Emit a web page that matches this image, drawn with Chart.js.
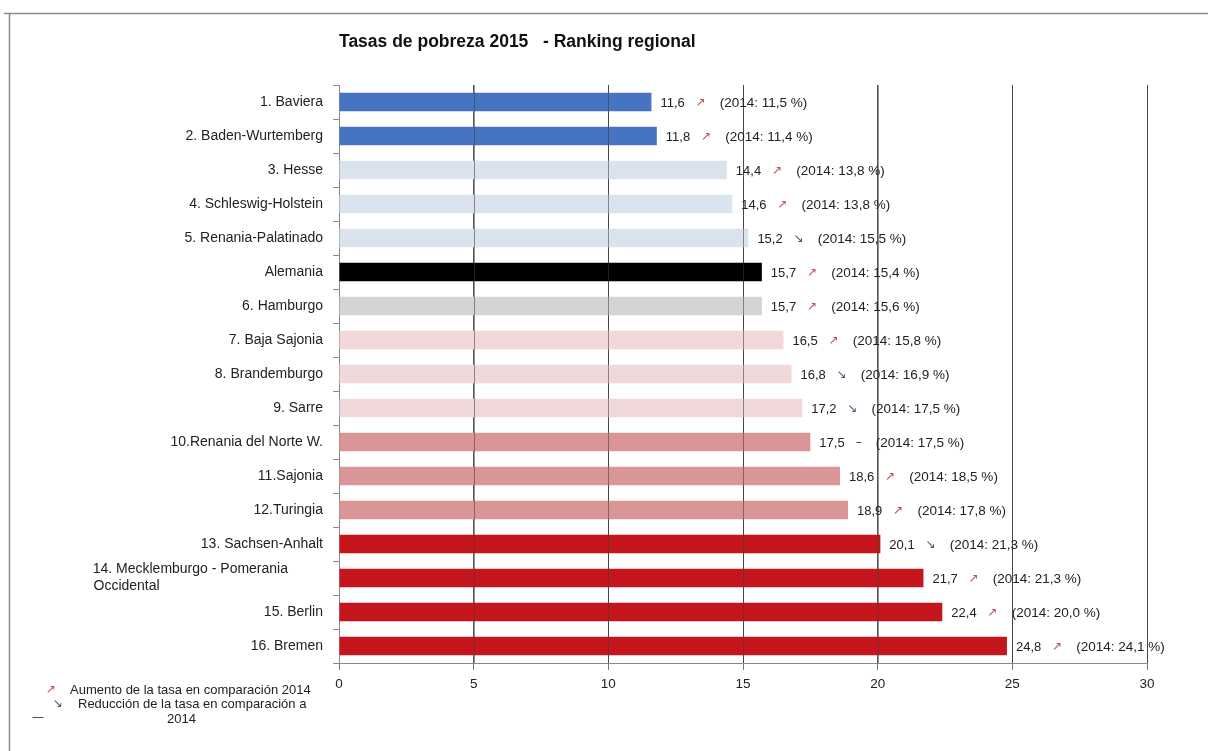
<!DOCTYPE html>
<html>
<head>
<meta charset="utf-8">
<script src="https://cdn.jsdelivr.net/npm/chart.js@4"></script>
<style>
  html, body { margin: 0; padding: 0; background: #fff; }
  #wrap { width: 1208px; height: 751px; position: relative; }
</style>
</head>
<body>
<div id="wrap"><canvas id="chart"></canvas></div>
<script>
// Regions, ranked by poverty rate 2015
const regions = [
    '1. Baviera', '2. Baden-Wurtemberg', '3. Hesse', '4. Schleswig-Holstein',
    '5. Renania-Palatinado', 'Alemania', '6. Hamburgo', '7. Baja Sajonia',
    '8. Brandemburgo', '9. Sarre', '10.Renania del Norte W.', '11.Sajonia',
    '12.Turingia', '13. Sachsen-Anhalt', ['14. Mecklemburgo - Pomerania', 'Occidental'],
    '15. Berlin', '16. Bremen'
];

// Rates 2015 and 2014 (%)
const rates2015 = [11.6, 11.8, 14.4, 14.6, 15.2, 15.7, 15.7, 16.5, 16.8, 17.2, 17.5, 18.6, 18.9, 20.1, 21.7, 22.4, 24.8];
const rates2014 = [11.5, 11.4, 13.8, 13.8, 15.5, 15.4, 15.6, 15.8, 16.9, 17.5, 17.5, 18.5, 17.8, 21.3, 21.3, 20.0, 24.1];

// Trend against 2014 as marked in the chart
const trend = ['up', 'up', 'up', 'up', 'down', 'up', 'up', 'up', 'down', 'down', 'same', 'up', 'up', 'down', 'up', 'up', 'up'];

// Axis ticks
const xTicks = [0, 5, 10, 15, 20, 25, 30];

// Bar colours by group
const barColors = [
    '#4674c3', '#4674c3',
    '#dbe3ee', '#dbe3ee', '#dbe3ee',
    '#000000',
    '#d4d4d4',
    '#f1d8d9', '#f1d8d9', '#f1d8d9',
    '#da9596', '#da9596', '#da9596',
    '#c5161d', '#c5161d', '#c5161d', '#c5161d'
];

const arrowSymbols = { up: '\u2197', down: '\u2198', same: '\u2013' };
const arrowColors = { up: '#c0504d', down: '#3f5a78', same: '#333' };
const textFont = '"Liberation Sans", Arial, sans-serif';

function fmt(v) {
    return v.toFixed(1).replace('.', ',');
}

// Grid lines show through the bars, plus value labels right of each bar
const valueLabels = {
    id: 'valueLabels',
    afterDatasetsDraw(chart) {
        const c = chart.ctx;
        const area = chart.chartArea;
        const xs = chart.scales.x;
        c.save();
        c.strokeStyle = 'rgba(60,60,60,0.55)';
        c.lineWidth = 1;
        xTicks.slice(1).forEach(t => {
            const px = Math.round(xs.getPixelForValue(t)) + 0.5;
            c.beginPath();
            c.moveTo(px, area.top);
            c.lineTo(px, area.bottom);
            c.stroke();
        });

        const meta = chart.getDatasetMeta(0);
        c.textBaseline = 'middle';
        meta.data.forEach((bar, i) => {
            let x = bar.x + 9;
            const y = bar.y + 1;
            c.font = '13px ' + textFont;
            c.fillStyle = '#222';
            const v = fmt(rates2015[i]);
            c.fillText(v, x, y);
            x += c.measureText(v).width + 11;
            c.font = '12px "DejaVu Sans", sans-serif';
            c.fillStyle = arrowColors[trend[i]];
            const a = arrowSymbols[trend[i]];
            c.fillText(a, x, y);
            x += c.measureText(a).width + 14;
            c.font = '13.5px ' + textFont;
            c.fillStyle = '#222';
            c.fillText('(2014: ' + fmt(rates2014[i]) + ' %)', x, y);
        });
        c.restore();
    }
};

// Frame lines and the note in the lower left corner
const frameAndNote = {
    id: 'frameAndNote',
    afterDraw(chart) {
        const c = chart.ctx;
        c.save();
        c.strokeStyle = '#8a8a8a';
        c.lineWidth = 1.5;
        c.beginPath();
        c.moveTo(4, 13.5);
        c.lineTo(chart.width, 13.5);
        c.moveTo(9.5, 13);
        c.lineTo(9.5, chart.height);
        c.stroke();

        c.textBaseline = 'middle';
        c.font = '12px "DejaVu Sans", sans-serif';
        c.fillStyle = arrowColors.up;
        c.fillText(arrowSymbols.up, 46, 690);
        c.fillStyle = arrowColors.down;
        c.fillText(arrowSymbols.down, 53, 704);
        c.fillStyle = '#333';
        c.fillText('\u2014', 32, 718);

        c.font = '13px ' + textFont;
        c.fillStyle = '#222';
        c.fillText('Aumento de la tasa en comparación 2014', 70, 690);
        c.fillText('Reducción de la tasa en comparación a', 78, 704);
        c.fillText('2014', 167, 719);
        c.restore();
    }
};

const ctx = document.getElementById('chart').getContext('2d');

const rankingChart = new Chart(ctx, {
    type: 'bar',
    data: {
        labels: regions,
        datasets: [{
            label: 'Tasa de pobreza 2015',
            data: rates2015,
            backgroundColor: barColors,
            borderWidth: 0,
            barPercentage: 0.54,
            categoryPercentage: 1
        }]
    },
    options: {
        indexAxis: 'y',
        responsive: true,
        maintainAspectRatio: false,
        animation: false,
        layout: {
            padding: { top: 0, right: 61, bottom: 0, left: 0 }
        },
        plugins: {
            legend: { display: false },
            tooltip: { enabled: false },
            title: {
                display: true,
                text: 'Tasas de pobreza 2015   - Ranking regional',
                align: 'start',
                fullSize: false,
                color: '#111',
                font: { family: textFont, size: 17.5, weight: 'bold' },
                padding: { top: 32, bottom: 32 }
            }
        },
        scales: {
            x: {
                min: 0,
                max: 30,
                afterBuildTicks: function (scale) {
                    scale.ticks = xTicks.map(v => ({ value: v }));
                },
                afterFit: function (scale) {
                    scale.height = 88;
                },
                grid: {
                    color: '#555',
                    lineWidth: 1,
                    tickLength: 7,
                    tickColor: '#777'
                },
                border: { display: true, color: '#888' },
                ticks: {
                    color: '#222',
                    padding: 6,
                    font: { family: '"Liberation Sans Narrow", "Liberation Sans", Arial, sans-serif', size: 13.5 }
                }
            },
            y: {
                afterFit: function (scale) {
                    scale.width = 339;
                },
                grid: {
                    drawOnChartArea: false,
                    tickLength: 6,
                    tickColor: '#888'
                },
                border: { display: true, color: '#888' },
                ticks: {
                    color: '#222',
                    padding: 10,
                    autoSkip: false,
                    font: { family: textFont, size: 14 },
                    // the two-line label is set flush left in the original
                    callback: function (value, index) {
                        const lab = this.getLabelForValue(value);
                        if (Array.isArray(lab)) {
                            return [lab[0] + ' '.repeat(9), lab[1] + ' '.repeat(42)];
                        }
                        return lab;
                    }
                }
            }
        }
    },
    plugins: [valueLabels, frameAndNote]
});
</script>
</body>
</html>
